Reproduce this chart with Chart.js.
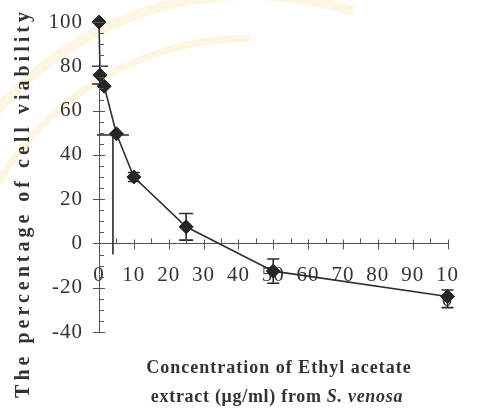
<!DOCTYPE html>
<html>
<head>
<meta charset="utf-8">
<script src="https://cdn.jsdelivr.net/npm/chart.js@4.4.0/dist/chart.umd.min.js"></script>
<style>
  html, body { margin: 0; padding: 0; background: #ffffff; }
  #wrap { width: 477px; height: 414px; }
</style>
</head>
<body>
<div id="wrap"><canvas id="c" width="477" height="414"></canvas></div>
<script>
// Concentration (µg/ml) and mean cell viability (%)
const concentrations = [0, 0.3, 1.5, 5, 10, 25, 50, 100];
const viability = [100, 76, 71, 49.5, 30, 7.5, -12.5, -24];

// Error bars: position on x, lower and upper ends
const errX = [0.3, 4, 10, 25, 50, 100];
const errLow = [72, -5, 28, 1.5, -18, -29];
const errHigh = [80, 49, 32, 13.5, -7, -21];
const errLowCap = [true, false, true, true, true, true];
const errCapHalf = [8, 16, 6, 7, 6, 6];

// Tick labels
const xTickValues = [0, 10, 20, 30, 40, 50, 60, 70, 80, 90, 100];
const xTickLabels = ['0', '10', '20', '30', '40', '50', '60', '70', '80', '90', ['10', '0']];
const yTickValues = [-40, -20, 0, 20, 40, 60, 80, 100];

const yTitle = 'The percentage of cell viability';
const xTitleLine1 = 'Concentration of Ethyl acetate';
const xTitleLine2a = 'extract (\u03bcg/ml) from ';
const xTitleLine2b = 'S. venosa';

const SERIF = '"Liberation Serif", "Times New Roman", serif';
const INK = '#333333';

// Faint page watermark behind the plot
const pageBackground = {
  id: 'pageBackground',
  beforeDraw(chart) {
    const { ctx } = chart;
    ctx.save();
    ctx.strokeStyle = 'rgba(248, 224, 150, 0.28)';
    ctx.lineWidth = 10;
    ctx.beginPath();
    ctx.arc(250, 330, 335, Math.PI * 1.08, Math.PI * 1.6);
    ctx.stroke();
    ctx.lineWidth = 7;
    ctx.beginPath();
    ctx.arc(250, 330, 292, Math.PI * 1.12, Math.PI * 1.5);
    ctx.stroke();
    ctx.restore();
    // tick labels inherit this spacing
    ctx.letterSpacing = '1px';
  }
};

// Excel-style tick marks: major ticks cross the axis, minor ticks sit inside
const tickMarks = {
  id: 'tickMarks',
  afterDraw(chart) {
    const { ctx, scales: { x, y } } = chart;
    const x0 = x.getPixelForValue(0);
    const y0 = y.getPixelForValue(0);
    ctx.save();
    ctx.strokeStyle = '#555555';
    ctx.lineWidth = 1;
    ctx.beginPath();
    for (let v = 0; v <= 100; v += 5) {
      const px = Math.round(x.getPixelForValue(v)) + 0.5;
      if (v % 10 === 0) { ctx.moveTo(px, y0 - 4); ctx.lineTo(px, y0 + 6); }
      else { ctx.moveTo(px, y0 - 5); ctx.lineTo(px, y0); }
    }
    for (let v = -40; v <= 100; v += 5) {
      const py = Math.round(y.getPixelForValue(v)) + 0.5;
      if (v % 20 === 0) { ctx.moveTo(x0 - 6, py); ctx.lineTo(x0 + 6, py); }
      else { ctx.moveTo(x0, py); ctx.lineTo(x0 + 5, py); }
    }
    ctx.stroke();
    ctx.restore();
  }
};

// Vertical error bars with horizontal caps
const errorBars = {
  id: 'errorBars',
  beforeDatasetsDraw(chart) {
    const { ctx, scales: { x, y } } = chart;
    ctx.save();
    ctx.strokeStyle = '#2a2a2a';
    ctx.lineWidth = 1.6;
    ctx.beginPath();
    errX.forEach((v, i) => {
      const px = x.getPixelForValue(v);
      const lo = y.getPixelForValue(errLow[i]);
      const hi = y.getPixelForValue(errHigh[i]);
      const w = errCapHalf[i];
      ctx.moveTo(px, lo); ctx.lineTo(px, hi);
      ctx.moveTo(px - w, hi); ctx.lineTo(px + w, hi);
      if (errLowCap[i]) { ctx.moveTo(px - w, lo); ctx.lineTo(px + w, lo); }
    });
    ctx.stroke();
    ctx.restore();
  }
};

// Axis titles in bold serif, letter-spaced
const axisTitles = {
  id: 'axisTitles',
  afterDraw(chart) {
    const { ctx } = chart;
    ctx.save();
    ctx.fillStyle = INK;
    ctx.textBaseline = 'middle';
    ctx.textAlign = 'center';
    ctx.letterSpacing = '4px';
    ctx.font = 'bold 20px ' + SERIF;
    ctx.save();
    ctx.translate(24, 203);
    ctx.rotate(-Math.PI / 2);
    ctx.fillText(yTitle, 0, 0);
    ctx.restore();

    ctx.letterSpacing = '1px';
    ctx.font = 'bold 18px ' + SERIF;
    ctx.fillText(xTitleLine1, 279, 368);

    ctx.letterSpacing = '0.7px';
    ctx.textAlign = 'left';
    ctx.font = 'bold 18px ' + SERIF;
    const wa = ctx.measureText(xTitleLine2a).width;
    ctx.font = 'italic bold 18px ' + SERIF;
    const wb = ctx.measureText(xTitleLine2b).width;
    const start = 277 - (wa + wb) / 2;
    ctx.font = 'bold 18px ' + SERIF;
    ctx.fillText(xTitleLine2a, start, 397);
    ctx.font = 'italic bold 18px ' + SERIF;
    ctx.fillText(xTitleLine2b, start + wa, 397);
    ctx.restore();
  }
};

const tickFont = { family: SERIF, size: 21 };

new Chart(document.getElementById('c'), {
  type: 'scatter',
  data: {
    datasets: [{
      data: concentrations.map((c, i) => ({ x: c, y: viability[i] })),
      showLine: true,
      borderColor: '#2f2f2f',
      borderWidth: 1.6,
      pointStyle: 'rectRot',
      pointRadius: 7,
      pointBackgroundColor: '#262626',
      pointBorderColor: '#262626',
      pointBorderWidth: 1,
      clip: false
    }]
  },
  options: {
    responsive: false,
    animation: false,
    events: [],
    layout: { padding: { left: 0, right: 15, top: 22, bottom: 82 } },
    plugins: { legend: { display: false }, tooltip: { enabled: false } },
    scales: {
      x: {
        type: 'linear',
        min: 0, max: 100,
        position: { y: 0 },
        afterFit(s) { s.height = 0; s.paddingTop = 0; s.paddingBottom = 0; },
        grid: { display: false, drawTicks: false },
        border: { color: '#555555', width: 1 },
        afterBuildTicks(s) { s.ticks = xTickValues.map(v => ({ value: v })); },
        ticks: {
          autoSkip: false, maxRotation: 0, padding: 19,
          color: INK, font: tickFont,
          callback: (v) => xTickLabels[xTickValues.indexOf(v)]
        }
      },
      y: {
        type: 'linear',
        min: -40, max: 100,
        afterFit(s) { s.width = 99; s.paddingTop = 0; s.paddingBottom = 0; },
        grid: { display: false, drawTicks: false },
        border: { color: '#555555', width: 1 },
        afterBuildTicks(s) { s.ticks = yTickValues.map(v => ({ value: v })); },
        ticks: { padding: 16, color: INK, font: tickFont }
      }
    }
  },
  plugins: [pageBackground, errorBars, tickMarks, axisTitles]
});
</script>
</body>
</html>
